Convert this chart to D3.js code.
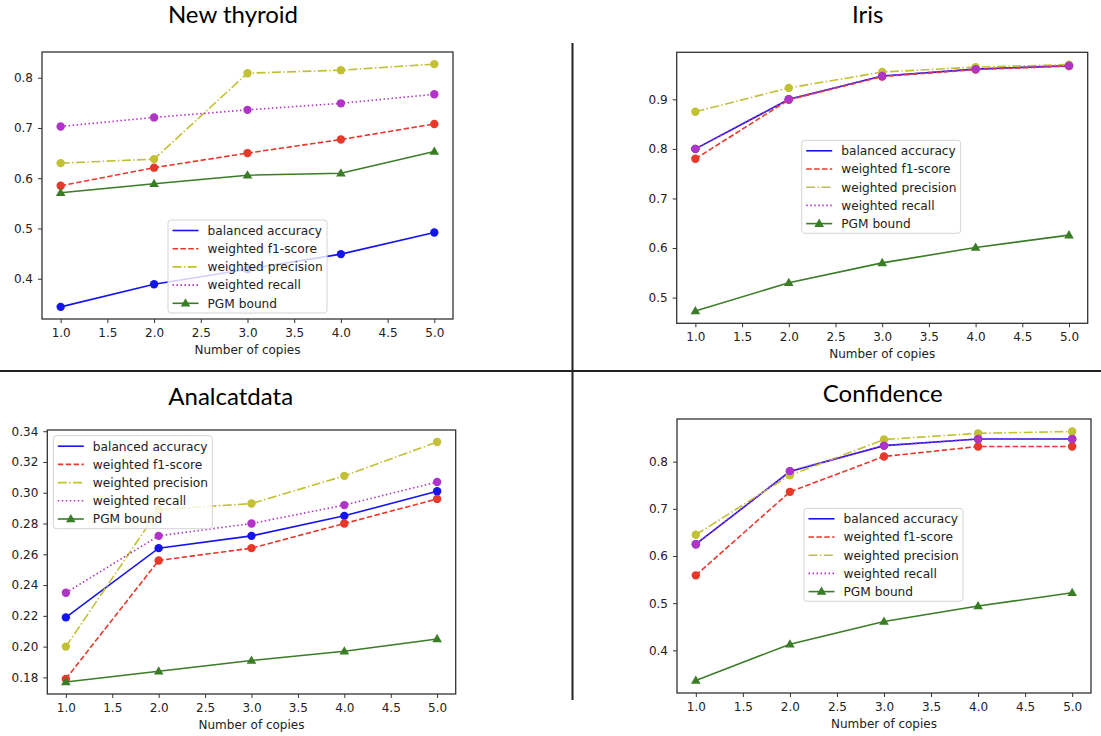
<!DOCTYPE html>
<html>
<head>
<meta charset="utf-8">
<script src="https://cdnjs.cloudflare.com/ajax/libs/d3/7.8.5/d3.min.js"></script>
<style>
  body { margin: 0; background: #fff; }
  svg text { font-family: "DejaVu Sans", sans-serif; fill: #222; }
  svg text.title { font-family: Lato, "Open Sans", sans-serif; font-size: 24px; fill: #000; }
</style>
</head>
<body>
<svg width="1101" height="736"></svg>
<script>
// x values shared by every panel
var copies = [1, 2, 3, 4, 5];
var seriesNames = ["balanced accuracy", "weighted f1-score", "weighted precision", "weighted recall", "PGM bound"];

// New thyroid
var thyroidBalAcc = [0.344, 0.389, 0.419, 0.449, 0.492];
var thyroidF1 = [0.585, 0.621, 0.650, 0.677, 0.708];
var thyroidPrec = [0.630, 0.638, 0.809, 0.815, 0.827];
var thyroidRecall = [0.703, 0.721, 0.736, 0.749, 0.767];
var thyroidPGM = [0.571, 0.589, 0.606, 0.610, 0.653];

// Iris
var irisBalAcc = [0.800, 0.900, 0.947, 0.961, 0.968];
var irisF1 = [0.780, 0.899, 0.946, 0.960, 0.967];
var irisPrec = [0.875, 0.923, 0.955, 0.965, 0.970];
var irisRecall = [0.800, 0.900, 0.947, 0.961, 0.968];
var irisPGM = [0.473, 0.530, 0.570, 0.601, 0.626];

// Analcatdata
var analBalAcc = [0.219, 0.264, 0.272, 0.285, 0.301];
var analF1 = [0.179, 0.256, 0.264, 0.280, 0.296];
var analPrec = [0.200, 0.289, 0.293, 0.311, 0.333];
var analRecall = [0.235, 0.272, 0.280, 0.292, 0.307];
var analPGM = [0.177, 0.184, 0.191, 0.197, 0.205];

// Confidence
var confBalAcc = [0.625, 0.779, 0.834, 0.848, 0.848];
var confF1 = [0.559, 0.736, 0.811, 0.832, 0.832];
var confPrec = [0.645, 0.771, 0.847, 0.860, 0.864];
var confRecall = [0.625, 0.780, 0.834, 0.848, 0.848];
var confPGM = [0.336, 0.413, 0.461, 0.494, 0.522];

// tick labels
var xTicks = [1, 1.5, 2, 2.5, 3, 3.5, 4, 4.5, 5];
var yTicksThyroid = [0.4, 0.5, 0.6, 0.7, 0.8];
var yTicksIris = [0.5, 0.6, 0.7, 0.8, 0.9];
var yTicksAnal = [0.18, 0.20, 0.22, 0.24, 0.26, 0.28, 0.30, 0.32, 0.34];
var yTicksConf = [0.4, 0.5, 0.6, 0.7, 0.8];

// line styles per series (matplotlib b-, r--, y-., m:, g-^)
var styles = [
  { color: "#1414f0", dash: null, marker: "circle" },
  { color: "#e8382a", dash: "5.5,2.4", marker: "circle" },
  { color: "#c2c034", dash: "9,2.4,1.5,2.4", marker: "circle" },
  { color: "#b034c6", dash: "1.5,2.5", marker: "circle" },
  { color: "#3a7d26", dash: null, marker: "triangle" }
];

var svg = d3.select("svg");

// separator lines between the four panels
svg.append("line").attr("x1", 0).attr("x2", 1101).attr("y1", 371).attr("y2", 371)
  .attr("stroke", "#222").attr("stroke-width", 2);
svg.append("line").attr("x1", 572.5).attr("x2", 572.5).attr("y1", 43).attr("y2", 700)
  .attr("stroke", "#222").attr("stroke-width", 2);

var panels = [
  { title: "New thyroid", series: [thyroidBalAcc, thyroidF1, thyroidPrec, thyroidRecall, thyroidPGM],
    yTicks: yTicksThyroid, fmt: ".1f",
    box: { l: 42, t: 52, r: 453, b: 319 }, titlePos: [233, 23], legend: [168, 220] },
  { title: "Iris", series: [irisBalAcc, irisF1, irisPrec, irisRecall, irisPGM],
    yTicks: yTicksIris, fmt: ".1f",
    box: { l: 676.7, t: 52.3, r: 1087.7, b: 323.3 }, titlePos: [867.7, 23], legend: [801.7, 140.3] },
  { title: "Analcatdata", series: [analBalAcc, analF1, analPrec, analRecall, analPGM],
    yTicks: yTicksAnal, fmt: ".2f",
    box: { l: 47.3, t: 430, r: 455.7, b: 694 }, titlePos: [230.7, 405], legend: [53.3, 435.7] },
  { title: "Confidence", series: [confBalAcc, confF1, confPrec, confRecall, confPGM],
    yTicks: yTicksConf, fmt: ".1f",
    box: { l: 677, t: 419, r: 1091, b: 693 }, titlePos: [882.7, 402.3], legend: [804, 508.3] }
];

panels.forEach(drawPanel);

function drawPanel(p) {
  var box = p.box;

  // x gets matplotlib's 5% margin on both sides
  var x = d3.scaleLinear().domain([0.8, 5.2]).range([box.l, box.r]);

  // same 5% margin on y, from the data itself
  var all = d3.merge(p.series);
  var lo = d3.min(all), hi = d3.max(all), pad = (hi - lo) * 0.05;
  var y = d3.scaleLinear().domain([lo - pad, hi + pad]).range([box.b, box.t]);

  var g = svg.append("g");

  g.append("text").attr("class", "title")
    .attr("x", p.titlePos[0]).attr("y", p.titlePos[1])
    .attr("text-anchor", "middle").text(p.title);

  var xAxis = g.append("g").attr("transform", "translate(0," + box.b + ")")
    .call(d3.axisBottom(x).tickValues(xTicks).tickFormat(d3.format(".1f"))
      .tickSize(4).tickPadding(5).tickSizeOuter(0));
  var yAxis = g.append("g").attr("transform", "translate(" + box.l + ",0)")
    .call(d3.axisLeft(y).tickValues(p.yTicks).tickFormat(d3.format(p.fmt))
      .tickSize(4).tickPadding(5).tickSizeOuter(0));

  [xAxis, yAxis].forEach(function(a) {
    a.select(".domain").remove();
    a.selectAll("line").attr("stroke", "#333");
    a.selectAll("text").style("font-size", "12px").attr("fill", "#222");
  });

  // frame round the plot area
  g.append("rect").attr("x", box.l).attr("y", box.t)
    .attr("width", box.r - box.l).attr("height", box.b - box.t)
    .attr("fill", "none").attr("stroke", "#333").attr("stroke-width", 1.3);

  g.append("text").attr("x", (box.l + box.r) / 2).attr("y", box.b + 35)
    .attr("text-anchor", "middle").style("font-size", "12px")
    .text("Number of copies");

  var line = d3.line().x(function(d, i) { return x(copies[i]); }).y(function(d) { return y(d); });

  p.series.forEach(function(vals, k) {
    var st = styles[k];
    var s = g.append("g");
    s.append("path").datum(vals).attr("d", line)
      .attr("fill", "none").attr("stroke", st.color).attr("stroke-width", 1.6)
      .attr("stroke-dasharray", st.dash);
    drawMarkers(s, vals.map(function(v, i) { return [x(copies[i]), y(v)]; }), st);
  });

  drawLegend(g, p.legend[0], p.legend[1]);
}

function drawMarkers(sel, pts, st) {
  if (st.marker === "circle") {
    sel.selectAll("circle").data(pts).enter().append("circle")
      .attr("cx", function(d) { return d[0]; }).attr("cy", function(d) { return d[1]; })
      .attr("r", 4.2).attr("fill", st.color);
  } else {
    var tri = d3.symbol().type(d3.symbolTriangle).size(40);
    sel.selectAll("path.m").data(pts).enter().append("path").attr("class", "m")
      .attr("d", tri)
      .attr("transform", function(d) { return "translate(" + d[0] + "," + (d[1] + 0.5) + ")"; })
      .attr("fill", st.color);
  }
}

function drawLegend(g, lx, ly) {
  var lg = g.append("g").attr("transform", "translate(" + lx + "," + ly + ")");
  lg.append("rect").attr("width", 159).attr("height", 93).attr("rx", 3)
    .attr("fill", "#fff").attr("fill-opacity", 0.8)
    .attr("stroke", "#d4d4d4").attr("stroke-width", 1);

  seriesNames.forEach(function(name, i) {
    var st = styles[i];
    var cy = 10.5 + i * 18.2;
    lg.append("line").attr("x1", 4.5).attr("x2", 30.5).attr("y1", cy).attr("y2", cy)
      .attr("stroke", st.color).attr("stroke-width", 1.6)
      .attr("stroke-dasharray", st.dash);
    if (st.marker === "triangle") {
      lg.append("path").attr("d", d3.symbol().type(d3.symbolTriangle).size(40))
        .attr("transform", "translate(17.5," + (cy + 0.5) + ")").attr("fill", st.color);
    }
    lg.append("text").attr("x", 39.5).attr("y", cy).attr("dy", "0.36em")
      .style("font-size", "12.2px").text(name);
  });
}
</script>
</body>
</html>
